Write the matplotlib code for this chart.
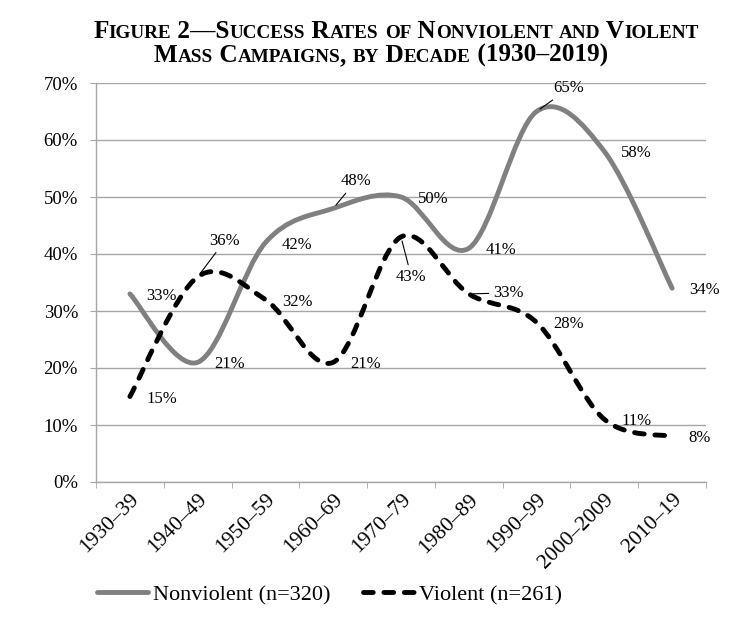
import numpy as np
import matplotlib
matplotlib.use("Agg")
import matplotlib.pyplot as plt
import matplotlib.transforms as mtransforms
from matplotlib.path import Path
from matplotlib.patches import PathPatch
from matplotlib.lines import Line2D
from matplotlib.ticker import FuncFormatter, MultipleLocator

# === Data ===
decades = ["1930\u201339", "1940\u201349", "1950\u201359", "1960\u201369", "1970\u201379",
           "1980\u201389", "1990\u201399", "2000\u20132009", "2010\u201319"]
nonviolent = [33, 21, 42, 48, 50, 41, 65, 58, 34]
violent = [15, 36, 32, 21, 43, 33, 28, 11, 8]
nonviolent_label = "Nonviolent (n=320)"
violent_label = "Violent (n=261)"
title_lines = ["Figure 2\u2014Success Rates of Nonviolent and Violent",
               "Mass Campaigns, by Decade (1930\u20132019)"]

# label offsets in points (default: right of the point)
default_off = (12.0, -1.5)
nv_offsets = {3: (5.0, 19.5), 6: (12.2, 16.6)}
v_offsets = {1: (8.6, 26.0), 4: (-3.6, -28.8), 5: (17.3, 0.7)}

serif = "Liberation Serif"
W, H = 751, 631


def smooth_path(xs, ys):
    # Excel-like smoothed line: cubic Bezier through each point (Catmull-Rom tangents)
    pts = np.column_stack([xs, ys]).astype(float)
    n = len(pts)
    verts = [pts[0]]
    codes = [Path.MOVETO]
    for i in range(n - 1):
        p0 = pts[max(i - 1, 0)]
        p1 = pts[i]
        p2 = pts[i + 1]
        p3 = pts[min(i + 2, n - 1)]
        verts += [p1 + (p2 - p0) / 6, p2 - (p3 - p1) / 6, p2]
        codes += [Path.CURVE4] * 3
    return Path(verts, codes)


fig = plt.figure(figsize=(W / 100, H / 100), dpi=100)
ax = fig.add_axes([96 / W, 1 - 482 / H, 610 / W, 399 / H])

x = np.arange(len(decades))
lw = 3.5
dash = (0, (2.0, 2.2))
nv_style = dict(color="#808080", lw=lw, capstyle="round", joinstyle="round")
v_style = dict(color="black", lw=lw, linestyle=dash, capstyle="round", joinstyle="round")
ax.add_patch(PathPatch(smooth_path(x, nonviolent), fill=False, zorder=3, **nv_style))
ax.add_patch(PathPatch(smooth_path(x, violent), fill=False, zorder=4, **v_style))

# === Axes ===
ax.set_xlim(-0.5, len(decades) - 0.5)
ax.set_ylim(0, 70)
ax.yaxis.set_major_locator(MultipleLocator(10))
ax.yaxis.set_major_formatter(FuncFormatter(lambda v, p: f"{v:.0f}%"))
ax.grid(axis="y", color="#a6a6a6", lw=1.0)
ax.set_axisbelow(True)
for s in ["top", "right"]:
    ax.spines[s].set_visible(False)
for s in ["left", "bottom"]:
    ax.spines[s].set_color("#a6a6a6")
    ax.spines[s].set_linewidth(1.0)

ax.set_xticks(x)
ax.set_xticklabels(decades, rotation=45, ha="right", rotation_mode="anchor",
                   fontsize=15.5, family=serif)
shift = mtransforms.ScaledTranslation(10 / 100, 0, fig.dpi_scale_trans)
for lab in ax.get_xticklabels():
    lab.set_transform(lab.get_transform() + shift)
ax.set_xticks(np.arange(-0.5, len(decades)), minor=True)
ax.tick_params(axis="x", which="major", length=0, pad=6)
ax.tick_params(axis="x", which="minor", length=4, color="#a6a6a6")
ax.tick_params(axis="y", length=4, color="#a6a6a6", pad=9)
for lab in ax.get_yticklabels():
    lab.set_fontsize(13.5)
    lab.set_family(serif)

# === Data labels ===
def label_series(vals, offsets):
    for i, v in enumerate(vals):
        off = offsets.get(i, default_off)
        kw = {}
        if i in offsets:
            kw["arrowprops"] = dict(arrowstyle="-", color="black", lw=0.8,
                                    shrinkA=1, shrinkB=3)
        ax.annotate(f"{v}%", xy=(i, v), xytext=off, textcoords="offset points",
                    ha="left", va="center", fontsize=12, family=serif, zorder=6, **kw)


label_series(nonviolent, nv_offsets)
label_series(violent, v_offsets)

# === Legend ===
handles = [Line2D([], [], color="#808080", lw=lw, solid_capstyle="round"),
           Line2D([], [], color="black", lw=lw, linestyle=dash, dash_capstyle="round")]
fig.legend(handles, [nonviolent_label, violent_label], loc="center left",
           bbox_to_anchor=(97 / W, 1 - 595 / H), ncol=2, frameon=False,
           prop=dict(family=serif, size=16), handlelength=2.3, handletextpad=0.2,
           columnspacing=1.5, borderpad=0, borderaxespad=0)

# === Title in small caps ===
def runs_for(line):
    out = []
    for ch in line:
        small = ch.islower()
        c = ch.upper()
        if out and out[-1][1] == small:
            out[-1][0] += c
        else:
            out.append([c, small])
    return out


renderer = fig.canvas.get_renderer()
big, small = 18.2, 13.8
for line, y_base, cx in [(title_lines[0], 1 - 38 / H, 396 / W), (title_lines[1], 1 - 62 / H, 381 / W)]:
    texts = []
    widths = []
    for s, is_small in runs_for(line):
        t = fig.text(0, y_base, s, fontsize=small if is_small else big, family=serif,
                     weight="bold", ha="left", va="baseline")
        # measure with a bar appended so trailing spaces count
        probe = fig.text(0, 0, s + "|", fontsize=t.get_fontsize(), family=serif, weight="bold")
        bar = fig.text(0, 0, "|", fontsize=t.get_fontsize(), family=serif, weight="bold")
        w = probe.get_window_extent(renderer).width - bar.get_window_extent(renderer).width
        probe.remove()
        bar.remove()
        texts.append(t)
        widths.append(w)
    xpix = cx * W - sum(widths) / 2
    for t, w in zip(texts, widths):
        t.set_x(xpix / W)
        xpix += w

fig.savefig("out.png", dpi=100)
